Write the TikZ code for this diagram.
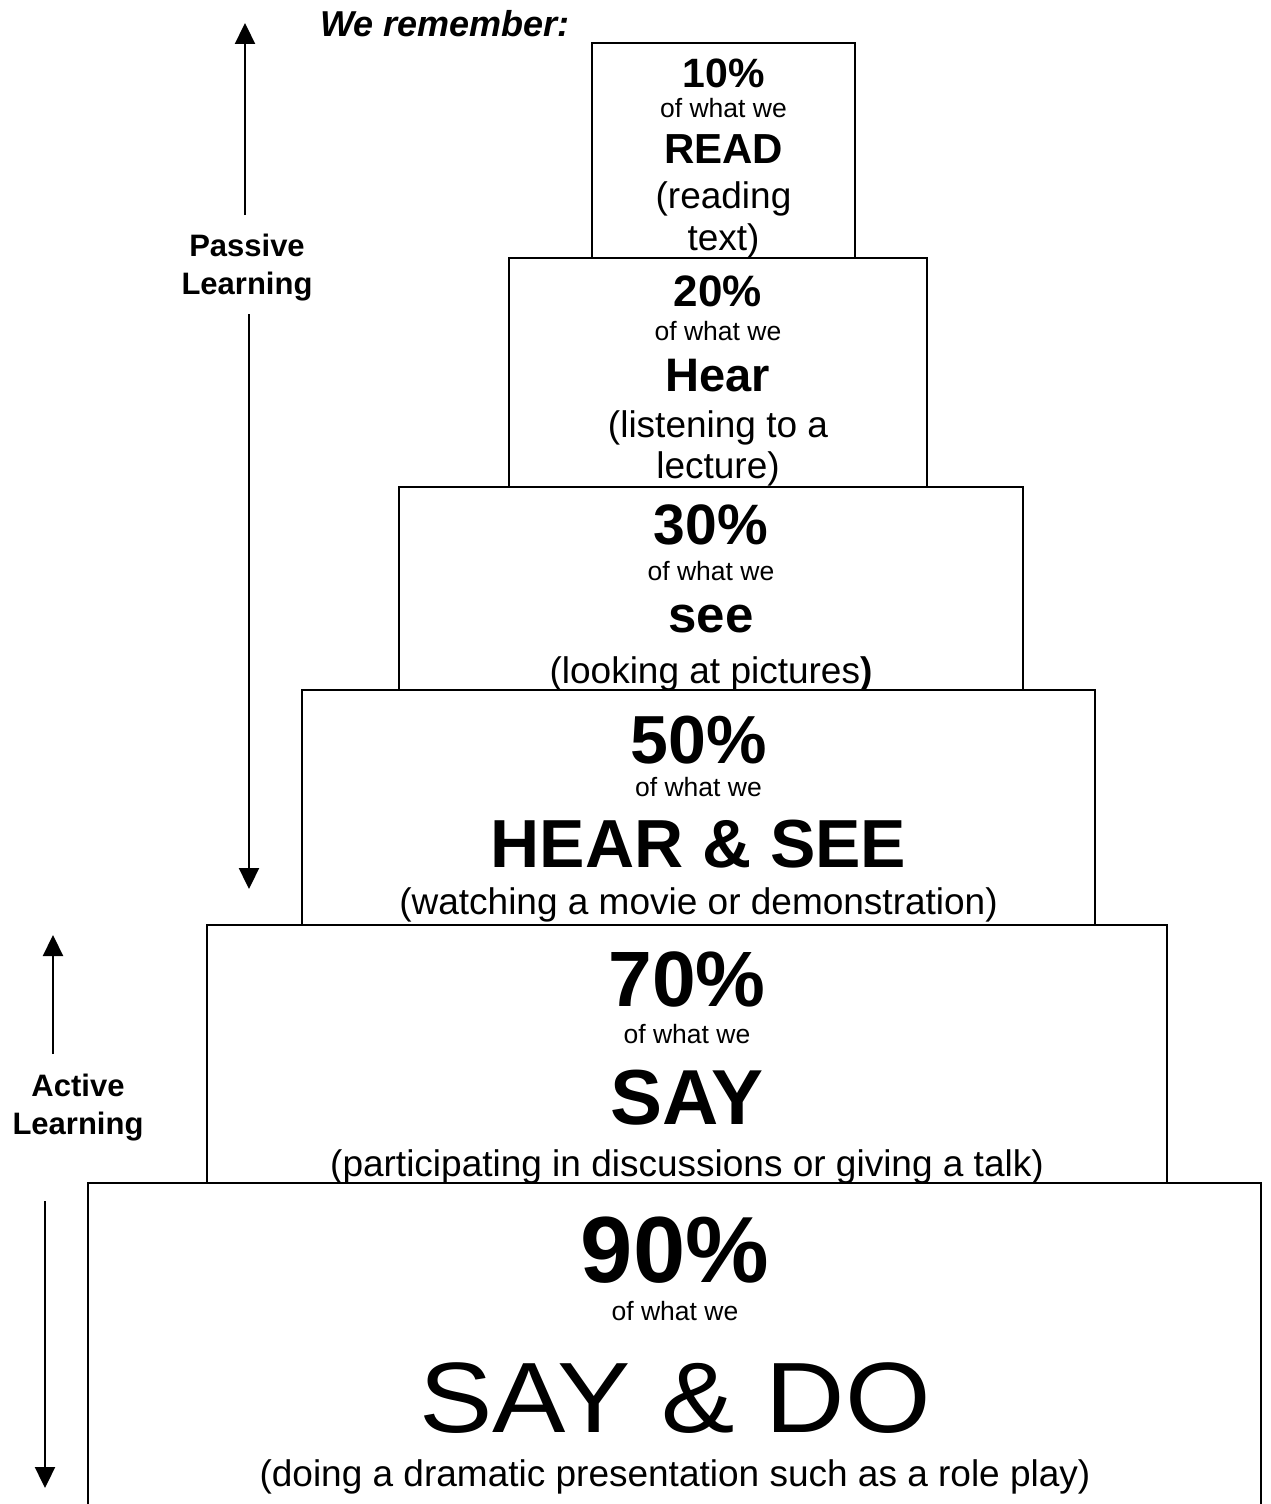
\documentclass[tikz,border=0pt]{standalone}
\usepackage{fontspec}
\setmainfont{Liberation Sans}
\usetikzlibrary{arrows.meta}
\newcommand\fsz[1]{\fontsize{#1}{#1}\selectfont}
\begin{document}
\begin{tikzpicture}[x=1pt,y=-1pt,
  boxline/.style={line width=2pt},
  txt/.style={anchor=base, inner sep=0pt, outer sep=0pt},
  small/.style={txt, font=\fsz{26.5}},
  paren/.style={txt, font=\fsz{37}},
  side/.style={txt, font=\fsz{31}\bfseries},
  arr/.style={line width=2.3pt, -{Triangle[length=21pt,width=20pt]}}]
\useasboundingbox (0,0) rectangle (1270,1504);
\fill[white] (0,0) rectangle (1270,1504);

% boxes
\draw[boxline] (592,258) -- (592,43) -- (855,43) -- (855,258);
\draw[boxline] (509,487) -- (509,258) -- (927,258) -- (927,487);
\draw[boxline] (399,690) -- (399,487) -- (1023,487) -- (1023,690);
\draw[boxline] (302,925) -- (302,690) -- (1095,690) -- (1095,925);
\draw[boxline] (207,1183) -- (207,925) -- (1167,925) -- (1167,1183);
\draw[boxline] (88,1520) -- (88,1183) -- (1261,1183) -- (1261,1520);

% title
\node[txt, font=\fsz{36}\bfseries\itshape] (title) at (445,37) {We remember:};

% box 1
\node[txt, font=\fsz{41}\bfseries] (p1) at (723.5,87) {10\%};
\node[small] (w1) at (723.5,117) {of what we};
\node[txt, font=\fsz{42}\bfseries] (v1) at (723.5,163) {READ};
\node[paren] (d1a) at (723.5,208) {(reading};
\node[paren] (d1b) at (723.5,250) {text)};

% box 2
\node[txt, font=\fsz{44}\bfseries] (p2) at (718,306) {20\%};
\node[small] (w2) at (718,340) {of what we};
\node[txt, font=\fsz{47}\bfseries] (v2) at (718,391) {Hear};
\node[paren] (d2a) at (718,437) {(listening to a};
\node[paren] (d2b) at (718,478) {lecture)};

% box 3
\node[txt, font=\fsz{57}\bfseries] (p3) at (711,544) {30\%};
\node[small] (w3) at (711,580) {of what we};
\node[txt, font=\fsz{51}\bfseries] (v3) at (711,632) {see};
\node[paren] (d3) at (711,683) {(looking at pictures\textbf{)}};

% box 4
\node[txt, font=\fsz{68}\bfseries] (p4) at (698.5,763) {50\%};
\node[small] (w4) at (698.5,796) {of what we};
\node[txt, font=\fsz{68}\bfseries] (v4) at (698.5,867) {HEAR \& SEE};
\node[paren] (d4) at (698.5,914) {(watching a movie or demonstration)};

% box 5
\node[txt, font=\fsz{78.5}\bfseries] (p5) at (687,1006) {70\%};
\node[small] (w5) at (687,1043) {of what we};
\node[txt, font=\fsz{78}\bfseries] (v5) at (687,1124) {SAY};
\node[paren] (d5) at (687,1176) {(participating in discussions or giving a talk)};

% box 6
\node[txt, font=\fsz{94}\bfseries] (p6) at (675,1282) {90\%};
\node[small] (w6) at (675,1320) {of what we};
\node[txt, font=\fsz{100}] (v6) at (675,1432) {\scalebox{1.1}[1]{SAY \& DO}};
\node[paren] (d6) at (675,1486) {(doing a dramatic presentation such as a role play)};

% side labels
\node[side] (pas1) at (247,256) {Passive};
\node[side] (pas2) at (247,294) {Learning};
\node[side] (act1) at (78,1096) {Active};
\node[side] (act2) at (78,1134) {Learning};

% arrows
\coordinate (pu0) at (245,215);
\coordinate (pu1) at (245,23);
\coordinate (pd0) at (249,314);
\coordinate (pd1) at (249,889);
\coordinate (au0) at (53,1054);
\coordinate (au1) at (53,935);
\coordinate (ad0) at (45,1201);
\coordinate (ad1) at (45,1488);
\draw[arr] (pu0) -- (pu1);
\draw[arr] (pd0) -- (pd1);
\draw[arr] (au0) -- (au1);
\draw[arr] (ad0) -- (ad1);
\end{tikzpicture}
\end{document}
